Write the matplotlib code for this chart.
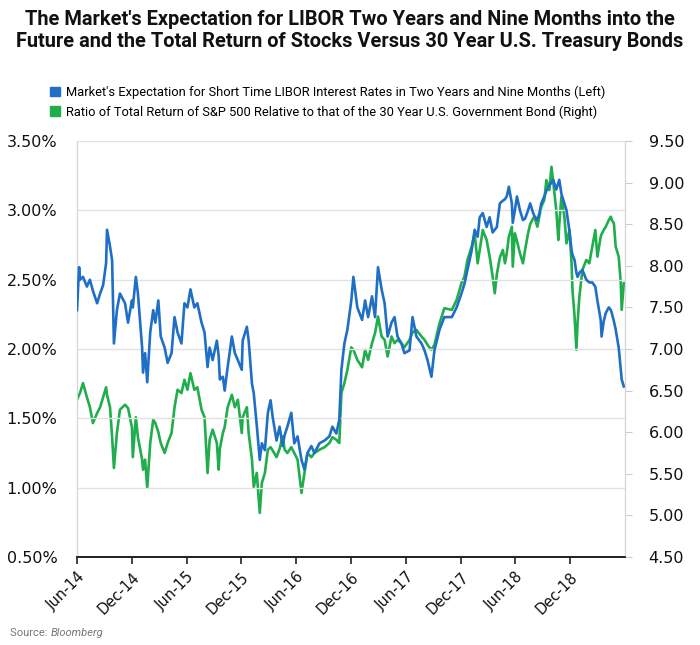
import matplotlib
matplotlib.use("Agg")
import matplotlib.pyplot as plt
import matplotlib.dates as mdates
from matplotlib.patches import Patch
import pandas as pd

# 1) Data
dates = [
    "2014-06-01", "2014-06-08", "2014-06-11", "2014-06-21", "2014-07-04", "2014-07-14", "2014-07-24",
    "2014-08-07", "2014-08-17", "2014-08-27", "2014-09-06", "2014-09-09", "2014-09-19", "2014-09-26",
    "2014-10-02", "2014-10-12", "2014-10-22", "2014-11-08", "2014-11-18", "2014-12-01", "2014-12-04",
    "2014-12-14", "2014-12-21", "2015-01-04", "2015-01-07", "2015-01-14", "2015-01-21", "2015-01-31",
    "2015-02-10", "2015-02-17", "2015-02-27", "2015-03-07", "2015-03-20", "2015-03-30", "2015-04-12",
    "2015-04-22", "2015-05-02", "2015-05-15", "2015-05-25", "2015-06-04", "2015-06-14", "2015-06-27",
    "2015-07-07", "2015-07-21", "2015-07-31", "2015-08-10", "2015-08-17", "2015-08-27", "2015-09-10",
    "2015-09-16", "2015-09-20", "2015-09-30", "2015-10-06", "2015-10-16", "2015-10-30", "2015-11-09",
    "2015-11-19", "2015-12-02", "2015-12-05", "2015-12-19", "2015-12-25", "2016-01-05", "2016-01-11",
    "2016-01-21", "2016-01-31", "2016-02-07", "2016-02-17", "2016-02-27", "2016-03-07", "2016-03-14",
    "2016-03-27", "2016-04-06", "2016-04-16", "2016-04-23", "2016-05-02", "2016-05-15", "2016-05-25",
    "2016-06-05", "2016-06-18", "2016-06-28", "2016-07-08", "2016-07-21", "2016-07-31", "2016-08-17",
    "2016-09-03", "2016-09-19", "2016-09-29", "2016-10-12", "2016-10-22", "2016-10-29", "2016-11-08",
    "2016-11-18", "2016-12-01", "2016-12-08", "2016-12-21", "2017-01-06", "2017-01-16", "2017-01-26",
    "2017-02-08", "2017-02-18", "2017-02-28", "2017-03-12", "2017-03-22", "2017-04-01", "2017-04-14",
    "2017-04-24", "2017-05-04", "2017-05-17", "2017-05-27", "2017-06-13", "2017-06-23", "2017-07-06",
    "2017-07-23", "2017-08-02", "2017-08-12", "2017-08-25", "2017-09-04", "2017-09-21", "2017-10-07",
    "2017-11-01", "2017-11-17", "2017-12-03", "2017-12-13", "2017-12-23", "2018-01-06", "2018-01-16",
    "2018-01-26", "2018-02-02", "2018-02-12", "2018-02-25", "2018-03-07", "2018-03-17", "2018-03-24",
    "2018-03-31", "2018-04-10", "2018-04-20", "2018-04-27", "2018-05-03", "2018-05-10", "2018-05-20",
    "2018-05-23", "2018-05-30", "2018-06-06", "2018-06-16", "2018-06-26", "2018-07-03", "2018-07-13",
    "2018-07-20", "2018-07-30", "2018-08-03", "2018-08-13", "2018-08-20", "2018-08-26", "2018-09-05",
    "2018-09-12", "2018-09-22", "2018-09-29", "2018-10-05", "2018-10-15", "2018-10-22", "2018-10-25",
    "2018-11-01", "2018-11-11", "2018-11-18", "2018-11-28", "2018-12-05", "2018-12-08", "2018-12-15",
    "2018-12-21", "2018-12-25", "2018-12-31", "2019-01-10", "2019-01-23", "2019-02-02", "2019-02-12",
    "2019-02-22", "2019-03-01", "2019-03-12", "2019-03-15", "2019-03-22", "2019-03-29", "2019-04-08",
    "2019-04-15", "2019-04-18", "2019-04-25", "2019-05-01", "2019-05-11", "2019-05-18", "2019-05-21",
    "2019-05-28",
]

libor = [
    2.28, 2.59, 2.50, 2.52, 2.45, 2.50, 2.42,
    2.33, 2.40, 2.46, 2.62, 2.86, 2.74, 2.64,
    2.04, 2.28, 2.40, 2.33, 2.19, 2.35, 2.30,
    2.52, 2.40, 2.01, 1.83, 1.97, 1.76, 2.12,
    2.28, 2.19, 2.35, 2.09, 2.01, 1.90, 1.97,
    2.23, 2.12, 2.04, 2.33, 2.30, 2.43, 2.30,
    2.33, 2.19, 2.12, 1.87, 2.01, 1.92, 2.06,
    1.95, 1.78, 1.80, 1.70, 1.87, 2.09, 1.97,
    1.92, 1.85, 2.06, 2.16, 2.06, 1.75, 1.68,
    1.45, 1.20, 1.32, 1.27, 1.54, 1.63, 1.51,
    1.34, 1.44, 1.30, 1.38, 1.44, 1.54, 1.32,
    1.37, 1.20, 1.13, 1.25, 1.30, 1.25, 1.32,
    1.34, 1.37, 1.44, 1.39, 1.49, 1.85, 2.04,
    2.14, 2.35, 2.52, 2.30, 2.21, 2.35, 2.23,
    2.38, 2.23, 2.59, 2.43, 2.33, 2.09, 2.19,
    2.23, 2.09, 2.04, 1.97, 1.99, 2.23, 2.09,
    2.04, 1.99, 1.92, 1.80, 1.99, 2.14, 2.23,
    2.23, 2.30, 2.40, 2.47, 2.57, 2.71, 2.86,
    2.81, 2.95, 2.98, 2.88, 2.95, 2.84, 2.86,
    2.88, 3.05, 3.07, 3.08, 3.10, 3.17, 3.05,
    2.91, 3.00, 3.10, 3.00, 2.93, 2.94, 3.00,
    3.05, 2.98, 2.96, 2.93, 2.98, 3.05, 3.10,
    3.14, 3.18, 3.20, 3.22, 3.15, 3.20, 3.22,
    3.12, 3.05, 3.00, 2.85, 2.71, 2.68, 2.64,
    2.55, 2.52, 2.55, 2.57, 2.50, 2.48, 2.48,
    2.45, 2.35, 2.21, 2.09, 2.20, 2.26, 2.30,
    2.28, 2.26, 2.20, 2.14, 2.01, 1.85, 1.78,
    1.73,
]

ratio = [
    6.39, 6.45, 6.47, 6.59, 6.42, 6.30, 6.11,
    6.23, 6.30, 6.42, 6.54, 6.45, 6.30, 5.94,
    5.57, 5.99, 6.27, 6.33, 6.29, 6.06, 5.70,
    6.18, 5.94, 5.67, 5.55, 5.67, 5.33, 5.87,
    6.15, 6.11, 6.00, 5.87, 5.75, 5.87, 5.99,
    6.30, 6.51, 6.47, 6.63, 6.51, 6.71, 6.51,
    6.54, 6.27, 6.18, 5.51, 5.91, 6.03, 5.87,
    5.55, 5.80, 5.99, 6.06, 6.30, 6.45, 6.30,
    6.39, 5.99, 6.18, 6.30, 5.99, 5.67, 5.34,
    5.51, 5.03, 5.39, 5.51, 5.79, 5.82, 5.78,
    5.70, 5.80, 5.95, 5.79, 5.75, 5.82, 5.75,
    5.67, 5.27, 5.51, 5.75, 5.70, 5.75, 5.79,
    5.82, 5.87, 5.94, 5.91, 5.87, 6.47, 6.59,
    6.75, 7.02, 6.99, 6.87, 6.78, 6.99, 6.87,
    7.07, 7.19, 7.39, 7.15, 7.11, 6.91, 7.15,
    7.07, 7.11, 7.07, 7.02, 7.11, 7.20, 7.23,
    7.15, 7.11, 7.05, 6.99, 7.05, 7.31, 7.49,
    7.47, 7.59, 7.79, 7.87, 8.07, 8.23, 8.39,
    8.03, 8.19, 8.43, 8.31, 8.11, 7.87, 7.67,
    7.90, 8.10, 8.19, 8.03, 8.15, 8.35, 8.47,
    7.99, 8.39, 8.30, 8.15, 8.03, 8.19, 8.39,
    8.50, 8.57, 8.59, 8.47, 8.60, 8.71, 8.79,
    9.03, 8.91, 9.19, 9.00, 8.67, 8.31, 8.50,
    8.83, 8.59, 8.27, 8.43, 8.03, 7.71, 7.39,
    6.99, 7.31, 7.63, 7.95, 8.07, 8.03, 8.23,
    8.43, 8.11, 8.35, 8.38, 8.43, 8.47, 8.55,
    8.59, 8.55, 8.51, 8.23, 8.11, 7.79, 7.47,
    7.79,
]

title = ("The Market's Expectation for LIBOR Two Years and Nine Months into the\n"
         "Future and the Total Return of Stocks Versus 30 Year U.S. Treasury Bonds")
labels = [
    "Market's Expectation for Short Time LIBOR Interest Rates in Two Years and Nine Months (Left)",
    "Ratio of Total Return of S&P 500 Relative to that of the 30 Year U.S. Government Bond (Right)",
]
left_ticks = [0.5, 1.0, 1.5, 2.0, 2.5, 3.0, 3.5]
right_ticks = [4.5, 5.0, 5.5, 6.0, 6.5, 7.0, 7.5, 8.0, 8.5, 9.0, 9.5]

BLUE = "#1f6fc6"
GREEN = "#1fae4b"
GRID = "#e2e2e2"
FONT = ["Roboto", "DejaVu Sans"]

d = pd.to_datetime(dates)

# 2) Plot
fig = plt.figure(figsize=(7, 6.45), dpi=100)
ax = fig.add_axes([77 / 700, 1 - 557 / 645, 548 / 700, 416 / 645])
ax2 = ax.twinx()

ax.plot(d, libor, color=BLUE, lw=1.9, zorder=3)
ax2.plot(d, ratio, color=GREEN, lw=1.9, zorder=2)
ax.set_zorder(ax2.get_zorder() + 1)
ax.patch.set_visible(False)

ax.set_ylim(0.5, 3.5)
ax.set_yticks(left_ticks)
ax.set_yticklabels([f"{v:.2f}%" for v in left_ticks], fontsize=11.5, color="#111111")
ax2.set_ylim(4.5, 9.5)
ax2.set_yticks(right_ticks)
ax2.set_yticklabels([f"{v:.2f}" for v in right_ticks], fontsize=11.5, color="#111111")

ax.set_xlim(pd.Timestamp("2014-06-01"), pd.Timestamp("2019-06-01"))
xt = pd.to_datetime(["2014-06-01", "2014-12-01", "2015-06-01", "2015-12-01", "2016-06-01",
                     "2016-12-01", "2017-06-01", "2017-12-01", "2018-06-01", "2018-12-01"])
ax.set_xticks(xt)
ax.xaxis.set_major_formatter(mdates.DateFormatter("%b-%y"))
plt.setp(ax.get_xticklabels(), rotation=45, ha="right", rotation_mode="anchor",
         fontsize=10.5, color="#111111")

ax.grid(axis="y", color=GRID, lw=1.0)
ax2.grid(False)
ax.set_axisbelow(True)
ax.tick_params(axis="y", length=0, pad=14)
ax.tick_params(axis="x", length=5, width=1.2, color="#222222", pad=4)
ax2.tick_params(axis="y", length=5, color="#cccccc", pad=12)
for a in (ax, ax2):
    a.spines["top"].set_visible(False)
    a.spines["left"].set_color("#d5d5d5")
    a.spines["right"].set_color("#d5d5d5")
    a.spines["bottom"].set_color("#222222")
    a.spines["bottom"].set_linewidth(1.3)

# 3) Title, legend, source
t = fig.text(0.5, 1 - 10 / 645, title, ha="center", va="top", fontsize=15, fontweight="bold",
             family=FONT, color="#111111", linespacing=1.2)
handles = [Patch(color=BLUE), Patch(color=GREEN)]
fig.legend(handles, labels, loc="upper left", bbox_to_anchor=(38 / 700, 1 - 74 / 645),
           frameon=False, handlelength=0.8, handleheight=0.8, handletextpad=0.5,
           labelspacing=0.5, prop={"family": FONT, "size": 9.3})
src = fig.text(10 / 700, 1 - 633 / 645, "Source: ", fontsize=8, color="#777777", va="center",
               family=FONT)

# fit the title width to the reference layout, place the italic source name
fig.canvas.draw()
r = fig.canvas.get_renderer()
w = t.get_window_extent(r).width
t.set_fontsize(15 * 673 / w)
sx = src.get_window_extent(r).x1
fig.text(sx / 700, 1 - 633 / 645, "Bloomberg", fontsize=8, color="#777777", va="center",
         style="italic", family=FONT)

fig.savefig("out.png", dpi=100)
